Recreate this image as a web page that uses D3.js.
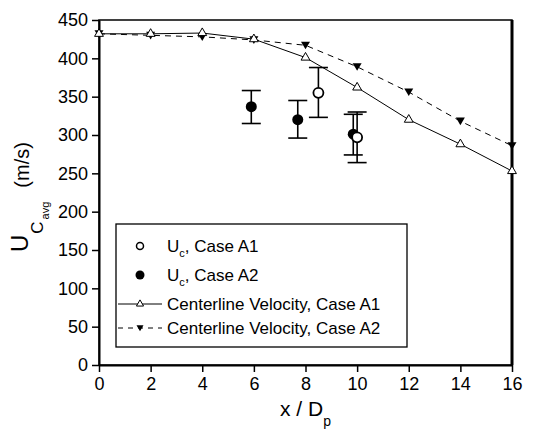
<!DOCTYPE html>
<html>
<head>
<meta charset="utf-8">
<script src="https://cdn.jsdelivr.net/npm/d3@7"></script>
<style>
  body { margin: 0; background: #fff; }
  svg { font-family: "Liberation Sans", Arial, sans-serif; }
</style>
</head>
<body>
<div id="chart"></div>
<script>
// centerline velocity curves (x / Dp -> m/s)
const lineX = [0, 2, 4, 6, 8, 10, 12, 14, 16];
const centerA1 = [432, 432, 433, 425, 401, 362, 320, 288, 253];
const centerA2 = [432, 430, 428, 424, 417, 389, 356, 318, 286];

// measured Uc with error bars
const ucA1X = [8.5, 10.0];
const ucA1 = [355, 297];
const ucA1Lo = [323, 264];
const ucA1Hi = [388, 330];

const ucA2X = [5.9, 7.7, 9.85];
const ucA2 = [337, 320, 301];
const ucA2Lo = [315, 296, 274];
const ucA2Hi = [358, 345, 327];

const xTicks = [0, 2, 4, 6, 8, 10, 12, 14, 16];
const yTicks = [0, 50, 100, 150, 200, 250, 300, 350, 400, 450];

const width = 553, height = 437;
const margin = { top: 20, right: 41, bottom: 72, left: 99 };

const svg = d3.select("#chart").append("svg")
    .attr("width", width)
    .attr("height", height);

const x = d3.scaleLinear().domain([0, 16]).range([margin.left, width - margin.right]);
const y = d3.scaleLinear().domain([0, 450]).range([height - margin.bottom, margin.top]);

// frame
svg.append("rect")
    .attr("x", x(0)).attr("y", y(450))
    .attr("width", x(16) - x(0)).attr("height", y(0) - y(450))
    .attr("fill", "none").attr("stroke", "#000").attr("stroke-width", 1.5);
svg.append("line")
    .attr("x1", x(16)).attr("x2", x(16)).attr("y1", y(450)).attr("y2", y(0))
    .attr("stroke", "#000").attr("stroke-width", 3);

const xAxis = svg.append("g")
    .attr("transform", `translate(0,${y(0)})`)
    .call(d3.axisBottom(x).tickValues(xTicks).tickSize(7).tickPadding(5).tickSizeOuter(0));
const yAxis = svg.append("g")
    .attr("transform", `translate(${x(0)},0)`)
    .call(d3.axisLeft(y).tickValues(yTicks).tickSize(7).tickPadding(4).tickSizeOuter(0));

[xAxis, yAxis].forEach(g => {
    g.select(".domain").attr("stroke-width", 2);
    g.selectAll(".tick line").attr("stroke-width", 1.5);
    g.selectAll("text").attr("font-size", 18).attr("fill", "#000")
        .attr("font-family", "Liberation Sans, Arial, sans-serif");
});

const line = d3.line().x(d => x(d[0])).y(d => y(d[1]));

// curves
svg.append("path")
    .datum(lineX.map((v, i) => [v, centerA2[i]]))
    .attr("fill", "none").attr("stroke", "#000").attr("stroke-width", 1)
    .attr("stroke-dasharray", "6,5").attr("d", line);
svg.append("path")
    .datum(lineX.map((v, i) => [v, centerA1[i]]))
    .attr("fill", "none").attr("stroke", "#000").attr("stroke-width", 1)
    .attr("d", line);

const triUp = d3.symbol().type(d3.symbolTriangle).size(34);
function triDown(cx, cy, s) {
    return `M${cx - s},${cy - s * 0.8}L${cx + s},${cy - s * 0.8}L${cx},${cy + s * 0.9}Z`;
}

svg.selectAll(".a2pt").data(lineX).join("path")
    .attr("d", (d, i) => triDown(x(d), y(centerA2[i]), 4.5))
    .attr("fill", "#000");
svg.selectAll(".a1pt").data(lineX).join("path")
    .attr("d", triUp)
    .attr("transform", (d, i) => `translate(${x(d)},${y(centerA1[i])})`)
    .attr("fill", "#fff").attr("stroke", "#000").attr("stroke-width", 1);

// error bars
function errorBars(xs, lo, hi) {
    const g = svg.append("g").attr("stroke", "#000").attr("stroke-width", 1.6);
    xs.forEach((v, i) => {
        g.append("line").attr("x1", x(v)).attr("x2", x(v)).attr("y1", y(lo[i])).attr("y2", y(hi[i]));
        [lo[i], hi[i]].forEach(e => {
            g.append("line").attr("x1", x(v) - 9.5).attr("x2", x(v) + 9.5).attr("y1", y(e)).attr("y2", y(e));
        });
    });
}
errorBars(ucA2X, ucA2Lo, ucA2Hi);
errorBars(ucA1X, ucA1Lo, ucA1Hi);

svg.selectAll(".ca2").data(ucA2X).join("circle")
    .attr("cx", d => x(d)).attr("cy", (d, i) => y(ucA2[i])).attr("r", 5.5)
    .attr("fill", "#000");
svg.selectAll(".ca1").data(ucA1X).join("circle")
    .attr("cx", d => x(d)).attr("cy", (d, i) => y(ucA1[i])).attr("r", 5)
    .attr("fill", "#fff").attr("stroke", "#000").attr("stroke-width", 1.8);

// legend
const legend = svg.append("g");
legend.append("rect")
    .attr("x", 116).attr("y", 224).attr("width", 291).attr("height", 123)
    .attr("fill", "#fff").attr("stroke", "#000").attr("stroke-width", 1.3);

const rows = [252, 281, 310, 334];
const textX = 167, symX = 140;

legend.append("circle").attr("cx", symX).attr("cy", rows[0] - 6).attr("r", 3.5)
    .attr("fill", "#fff").attr("stroke", "#000").attr("stroke-width", 1.5);
legend.append("circle").attr("cx", symX).attr("cy", rows[1] - 6).attr("r", 4.5)
    .attr("fill", "#000");
legend.append("line").attr("x1", 118).attr("x2", 162).attr("y1", rows[2] - 6).attr("y2", rows[2] - 6)
    .attr("stroke", "#000").attr("stroke-width", 1);
legend.append("path")
    .attr("d", d3.symbol().type(d3.symbolTriangle).size(22))
    .attr("transform", `translate(${symX},${rows[2] - 6})`)
    .attr("fill", "#fff").attr("stroke", "#000").attr("stroke-width", 1);
legend.append("line").attr("x1", 118).attr("x2", 162).attr("y1", rows[3] - 6).attr("y2", rows[3] - 6)
    .attr("stroke", "#000").attr("stroke-width", 1).attr("stroke-dasharray", "5,5");
legend.append("path")
    .attr("d", triDown(symX, rows[3] - 6, 3.5))
    .attr("fill", "#000");

const ucLabels = [", Case A1", ", Case A2"];
ucLabels.forEach((t, i) => {
    const tx = legend.append("text").attr("x", textX).attr("y", rows[i]).attr("font-size", 17);
    tx.append("tspan").text("U");
    tx.append("tspan").attr("font-size", 11).attr("dy", 5).text("c");
    tx.append("tspan").attr("dy", -5).text(t);
});
["Centerline Velocity, Case A1", "Centerline Velocity, Case A2"].forEach((t, i) => {
    legend.append("text").attr("x", textX).attr("y", rows[i + 2]).attr("font-size", 17).text(t);
});

// axis titles
const xt = svg.append("text").attr("x", x(8)).attr("y", 416)
    .attr("text-anchor", "middle").attr("font-size", 21);
xt.append("tspan").text("x / D");
xt.append("tspan").attr("font-size", 14).attr("dy", 10).text("p");

const yt = svg.append("text")
    .attr("transform", "translate(28,252) rotate(-90)")
    .attr("font-size", 24);
yt.append("tspan").text("U");
yt.append("tspan").attr("font-size", 17).attr("dx", 1).attr("dy", 15).text("C");
yt.append("tspan").attr("font-size", 11).attr("dx", 2).attr("dy", 6).text("avg");
yt.append("tspan").attr("font-size", 20).attr("dx", 14).attr("dy", -20).text("(m/s)");
</script>
</body>
</html>
